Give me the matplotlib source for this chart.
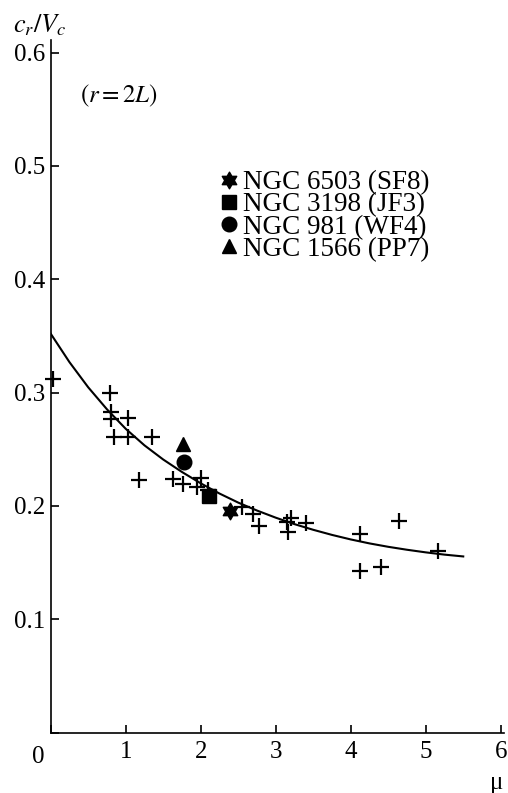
import numpy as np
import matplotlib
matplotlib.use("Agg")
import matplotlib.pyplot as plt
from matplotlib.path import Path

plt.rcParams['font.family'] = ['Liberation Serif', 'DejaVu Serif']
plt.rcParams['mathtext.fontset'] = 'stix'

# field galaxies (crosses)
mu_pts = [0.03, 0.79, 0.81, 0.81, 1.03, 0.84, 1.03, 1.35, 1.18, 1.63, 1.77, 1.95, 2.00,
          2.10, 2.55, 2.70, 2.78, 3.15, 3.20, 3.17, 3.40, 4.12, 4.12, 4.40, 4.65, 5.17]
cr_pts = [0.312, 0.300, 0.283, 0.277, 0.278, 0.261, 0.261, 0.261, 0.223, 0.224, 0.219,
          0.2165, 0.225, 0.214, 0.1995, 0.193, 0.182, 0.186, 0.1895, 0.177, 0.185,
          0.175, 0.143, 0.146, 0.1865, 0.160]

# fitted curve
mu_fit = [0.0, 0.25, 0.5, 0.75, 1.0, 1.25, 1.5, 1.75, 2.0, 2.25, 2.5, 2.75, 3.0,
          3.25, 3.5, 3.75, 4.0, 4.25, 4.5, 4.75, 5.0, 5.25, 5.5]
cr_fit = [0.352, 0.3269, 0.3047, 0.2853, 0.2681, 0.2535, 0.2410, 0.2300, 0.2200,
          0.2110, 0.2030, 0.1960, 0.1897, 0.1840, 0.1790, 0.1745, 0.1705, 0.1670,
          0.1640, 0.1614, 0.1591, 0.1571, 0.1555]

# named galaxies
gal_names = ['NGC 6503 (SF8)', 'NGC 3198 (JF3)', 'NGC 981 (WF4)', 'NGC 1566 (PP7)']
gal_mu = [2.39, 2.115, 1.777, 1.77]
gal_cr = [0.196, 0.209, 0.239, 0.2548]

hexagram = Path.unit_regular_star(6, 0.577)
gal_markers = [hexagram, 's', 'o', '^']
gal_sizes = [12, 10, 10.5, 10.5]

fig = plt.figure(figsize=(5.08, 7.93), dpi=100)
ax = fig.add_axes([0.0998, 0.0760, 0.8933, 0.8735])

ax.plot(mu_fit, cr_fit, color='black', lw=1.5)
ax.plot(mu_pts, cr_pts, '+', color='black', ms=12, mew=1.6, clip_on=False)

for name, x, y, m, s in zip(gal_names, gal_mu, gal_cr, gal_markers, gal_sizes):
    ax.plot([x], [y], marker=m, ms=s, color='black', ls='none', label=name, clip_on=False)

ax.set_xlim(0, 6.05)
ax.set_ylim(0, 0.611)

ax.spines['top'].set_visible(False)
ax.spines['right'].set_visible(False)
for sp in ['left', 'bottom']:
    ax.spines[sp].set_linewidth(1.2)

ax.set_xticks([0, 1, 2, 3, 4, 5, 6])
ax.set_xticklabels(['', '1', '2', '3', '4', '5', '6'])
ax.set_yticks([0, 0.1, 0.2, 0.3, 0.4, 0.5, 0.6])
ax.set_yticklabels(['', '0.1', '0.2', '0.3', '0.4', '0.5', '0.6'])
ax.tick_params(direction='in', length=6, width=1.2, labelsize=18)
ax.tick_params(axis='x', pad=6)
ax.tick_params(axis='y', pad=4)

fig.text(38 / 508, 1 - 746 / 793, '0', fontsize=18, ha='center', va='top')
fig.text(13 / 508, 1 - 32 / 793, r'$c_r/V_c$', fontsize=19, ha='left', va='baseline')
fig.text(497 / 508, 1 - 783 / 793, 'μ', fontsize=18, ha='center', va='center')
ax.text(80 / 508, 1 - 96 / 793, r'$(r = 2L)$', fontsize=18, ha='left', va='center',
        transform=fig.transFigure)

ax.legend(loc='upper left', bbox_to_anchor=(222 / 508, 1 - 170 / 793),
          bbox_transform=fig.transFigure, frameon=False, fontsize=19.5,
          handlelength=0.55, handletextpad=0.22, labelspacing=-0.1, borderpad=0,
          borderaxespad=0, markerscale=1.0)

fig.savefig('out.png', dpi=100)
